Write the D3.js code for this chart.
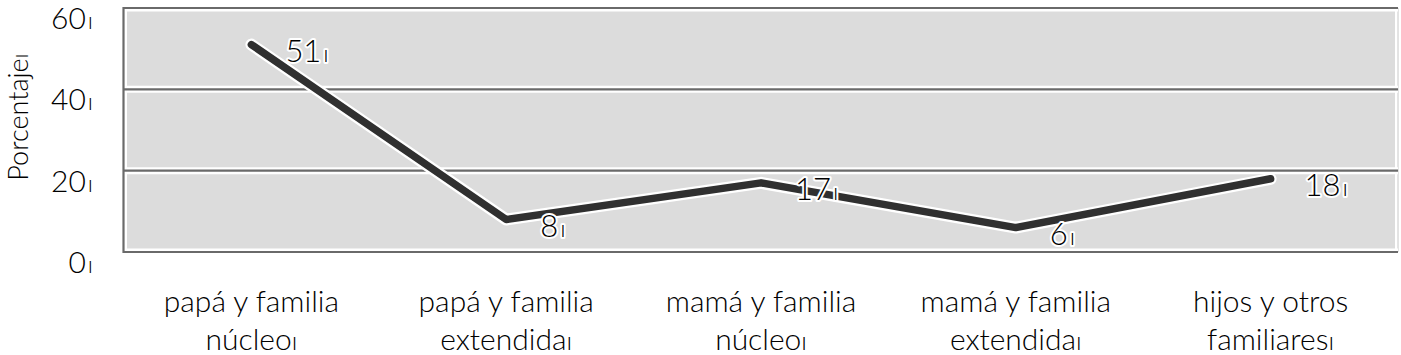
<!DOCTYPE html>
<html><head><meta charset="utf-8">
<script src="https://cdn.jsdelivr.net/npm/d3@7"></script>
<style>
html,body{margin:0;padding:0;background:#fff;}
svg text{font-family:Lato,"Open Sans",sans-serif;font-weight:300;fill:#000;}
</style></head>
<body><svg id="c" width="1401" height="355"></svg>
<script>
const categories = [["papá y familia","núcleo"],["papá y familia","extendida"],["mamá y familia","núcleo"],["mamá y familia","extendida"],["hijos y otros","familiares"]];
const values = [51, 8, 17, 6, 18];
const yTicks = [0, 20, 40, 60];
const yTitle = "Porcentaje";
const mark = "ı";

const svg = d3.select("#c");
const m = {l:124, r:1398, t:8, b:252};
const x = d3.scalePoint().domain(d3.range(values.length)).range([m.l, m.r]).padding(0.5);
const y = d3.scaleLinear().domain([0, 60]).range([m.b, m.t]);

// plot background
svg.append("rect").attr("x", m.l).attr("y", m.t).attr("width", m.r - m.l).attr("height", m.b - m.t).attr("fill", "#ffffff");
svg.append("rect").attr("x", m.l + 3).attr("y", m.t).attr("width", m.r - m.l - 6).attr("height", m.b - m.t).attr("fill", "#dcdcdc");
svg.append("line").attr("x1", m.r).attr("x2", m.r).attr("y1", m.t).attr("y2", m.b).attr("stroke", "#c8c8c8").attr("stroke-width", 1);

// gridlines
const grid = svg.append("g");
yTicks.forEach(t => {
  grid.append("line").attr("x1", m.l).attr("x2", m.r).attr("y1", y(t)).attr("y2", y(t)).attr("stroke", "#ffffff").attr("stroke-width", 7);
});
yTicks.forEach(t => {
  grid.append("line").attr("x1", m.l).attr("x2", m.r).attr("y1", y(t)).attr("y2", y(t)).attr("stroke", "#6a6a6a").attr("stroke-width", 2.2);
});
svg.append("line").attr("x1", m.l - 0.5).attr("x2", m.l - 0.5).attr("y1", m.t - 1).attr("y2", m.b + 1).attr("stroke", "#6a6a6a").attr("stroke-width", 2.2);

// y axis labels
const yAxis = d3.axisLeft(y).tickValues(yTicks).tickSize(0).tickPadding(0);
const ya = svg.append("g").attr("transform", `translate(${m.l - 31},9)`).call(yAxis);
ya.select(".domain").remove();
ya.selectAll("text").attr("font-size", 30).attr("font-family", "Lato").attr("font-weight", 300).attr("fill", "#000")
  .attr("dy", "0.38em").text(null)
  .each(function(d){
    const t = d3.select(this);
    t.append("tspan").text(d);
    t.append("tspan").attr("font-size", 23).attr("dx", 2).text(mark);
  });

// y title
const yt = svg.append("text").attr("transform", "translate(28,117) rotate(-90)").attr("text-anchor", "middle").attr("font-size", 27);
yt.append("tspan").text(yTitle);
yt.append("tspan").attr("font-size", 23).text(mark);

// category labels
const cx = svg.append("g");
categories.forEach((c, i) => {
  const t = cx.append("text").attr("x", x(i)).attr("y", 312).attr("text-anchor", "middle").attr("font-size", 30);
  t.append("tspan").attr("x", x(i)).text(c[0]);
  t.append("tspan").attr("x", x(i)).attr("dy", 38).text(c[1]);
  t.append("tspan").attr("font-size", 25).text(mark);
});

// line
const line = d3.line().x((d, i) => x(i)).y(d => y(d));
svg.append("path").datum(values).attr("d", line).attr("fill", "none").attr("stroke", "#ffffff").attr("stroke-width", 12).attr("stroke-linejoin", "round").attr("stroke-linecap", "round");
svg.append("path").datum(values).attr("d", line).attr("fill", "none").attr("stroke", "#303030").attr("stroke-width", 7.5).attr("stroke-linejoin", "round").attr("stroke-linecap", "round");

// value labels
const lg = svg.append("g");
values.forEach((v, i) => {
  const t = lg.append("text").attr("x", x(i) + 34).attr("y", y(v) + 6).attr("dy", "0.36em").attr("font-size", 31).attr("font-weight", 400)
    .attr("stroke", "#ffffff").attr("stroke-width", 4).attr("paint-order", "stroke").attr("stroke-linejoin", "round");
  t.append("tspan").text(v);
  t.append("tspan").attr("font-size", 24).attr("dx", 2).text(mark);
});
</script></body></html>
